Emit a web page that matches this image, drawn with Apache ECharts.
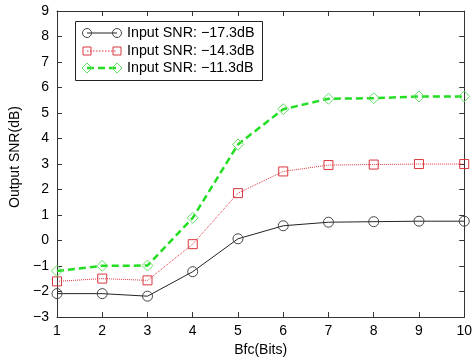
<!DOCTYPE html>
<html><head><meta charset="utf-8">
<script src="https://cdn.jsdelivr.net/npm/echarts@6/dist/echarts.min.js"></script>
<style>html,body{margin:0;padding:0;background:#fff}#c{width:475px;height:362px}</style>
</head><body><div id="c"></div>
<script>
var categories = [1, 2, 3, 4, 5, 6, 7, 8, 9, 10];
var snr173 = [-2.08, -2.08, -2.18, -1.22, 0.07, 0.58, 0.72, 0.74, 0.76, 0.76];
var snr143 = [-1.60, -1.49, -1.56, -0.14, 1.86, 2.71, 2.96, 2.98, 3.00, 3.00];
var snr113 = [-1.19, -0.99, -0.98, 0.89, 3.77, 5.15, 5.56, 5.58, 5.65, 5.65];
var seriesNames = ['Input SNR: \u221217.3dB', 'Input SNR: \u221214.3dB', 'Input SNR: \u221211.3dB'];

function pairs(arr){ return categories.map(function(x,i){ return [x, arr[i]]; }); }
var FONT = 'Liberation Sans';
var BLACK = '#222', BLACKM = '#444', RED = '#d9363e', GREEN = '#22dd22', GREENM = '#66dd66';
var LFONT = '14.3px "Liberation Sans"';
var CLEAR = 'rgba(255,255,255,0)';

var chart = echarts.init(document.getElementById('c'));
var tickStyle = {show:true, inside:true, length:5, lineStyle:{color:'#333'}};
var lineSt = {onZero:false, show:true, lineStyle:{color:'#333'}};
chart.setOption({
  animation:false,
  textStyle:{fontFamily:FONT},
  grid:{left:57, top:11, right:8, bottom:39},
  xAxis:[{
    type:'value', min:1, max:10, interval:1,
    name:'Bfc(Bits)', nameLocation:'middle', nameGap:19,
    nameTextStyle:{color:'#000', fontSize:14, fontFamily:FONT},
    axisLine:lineSt, axisTick:tickStyle,
    axisLabel:{color:'#000', fontSize:14, margin:7, fontFamily:FONT},
    splitLine:{show:false}
  },{
    type:'value', min:1, max:10, interval:1, position:'top',
    axisLine:lineSt, axisTick:tickStyle,
    axisLabel:{show:false}, splitLine:{show:false}
  }],
  yAxis:[{
    type:'value', min:-3, max:9, interval:1,
    name:'Output SNR(dB)', nameLocation:'middle', nameGap:35,
    nameTextStyle:{color:'#000', fontSize:14, fontFamily:FONT, padding:[0,0,0,14]},
    axisLine:lineSt, axisTick:tickStyle,
    axisLabel:{color:'#000', fontSize:14, margin:8, fontFamily:FONT,
      formatter:function(v){ return v<0 ? '\u2212'+(-v) : ''+v; }},
    splitLine:{show:false}
  },{
    type:'value', min:-3, max:9, interval:1, position:'right',
    axisLine:lineSt, axisTick:tickStyle,
    axisLabel:{show:false}, splitLine:{show:false}
  }],
  series:[
    {name:seriesNames[0], type:'line', data:pairs(snr173), symbol:'circle', symbolSize:10,
     lineStyle:{color:BLACK, width:1, type:'solid'}, itemStyle:{color:CLEAR, borderColor:BLACKM, borderWidth:1}},
    {name:seriesNames[1], type:'line', data:pairs(snr143), symbol:'rect', symbolSize:9,
     lineStyle:{color:RED, width:1, type:'dotted'}, itemStyle:{color:CLEAR, borderColor:RED, borderWidth:1}},
    {name:seriesNames[2], type:'line', data:pairs(snr113), symbol:'diamond', symbolSize:11,
     lineStyle:{color:GREEN, width:2.5, type:[7,4]}, itemStyle:{color:CLEAR, borderColor:GREENM, borderWidth:1}}
  ],
  graphic:[
    {type:'rect', shape:{x:75.5, y:21.5, width:187, height:59}, style:{fill:'#fff', stroke:'#222', lineWidth:1}, z:100},
    {type:'line', shape:{x1:87, y1:33, x2:117, y2:33}, style:{stroke:BLACK, lineWidth:1}, z:101},
    {type:'circle', shape:{cx:87, cy:33, r:4.5}, style:{fill:CLEAR, stroke:BLACKM, lineWidth:1}, z:102},
    {type:'circle', shape:{cx:117, cy:33, r:4.5}, style:{fill:CLEAR, stroke:BLACKM, lineWidth:1}, z:102},
    {type:'text', style:{text:seriesNames[0], x:127, y:33, verticalAlign:'middle', fill:'#000', font:LFONT}, z:102},
    {type:'line', shape:{x1:87, y1:51, x2:117, y2:51}, style:{stroke:RED, lineWidth:1, lineDash:[1.5,1.5]}, z:101},
    {type:'rect', shape:{x:83, y:47, width:8, height:8}, style:{fill:CLEAR, stroke:RED, lineWidth:1}, z:102},
    {type:'rect', shape:{x:113, y:47, width:8, height:8}, style:{fill:CLEAR, stroke:RED, lineWidth:1}, z:102},
    {type:'text', style:{text:seriesNames[1], x:127, y:51, verticalAlign:'middle', fill:'#000', font:LFONT}, z:102},
    {type:'line', shape:{x1:87, y1:68, x2:117, y2:68}, style:{stroke:GREEN, lineWidth:2.5, lineDash:[7,4]}, z:101},
    {type:'polygon', shape:{points:[[87,63],[92,68],[87,73],[82,68]]}, style:{fill:CLEAR, stroke:GREENM, lineWidth:1}, z:102},
    {type:'polygon', shape:{points:[[117,63],[122,68],[117,73],[112,68]]}, style:{fill:CLEAR, stroke:GREENM, lineWidth:1}, z:102},
    {type:'text', style:{text:seriesNames[2], x:127, y:68, verticalAlign:'middle', fill:'#000', font:LFONT}, z:102}
  ]
});
</script></body></html>
